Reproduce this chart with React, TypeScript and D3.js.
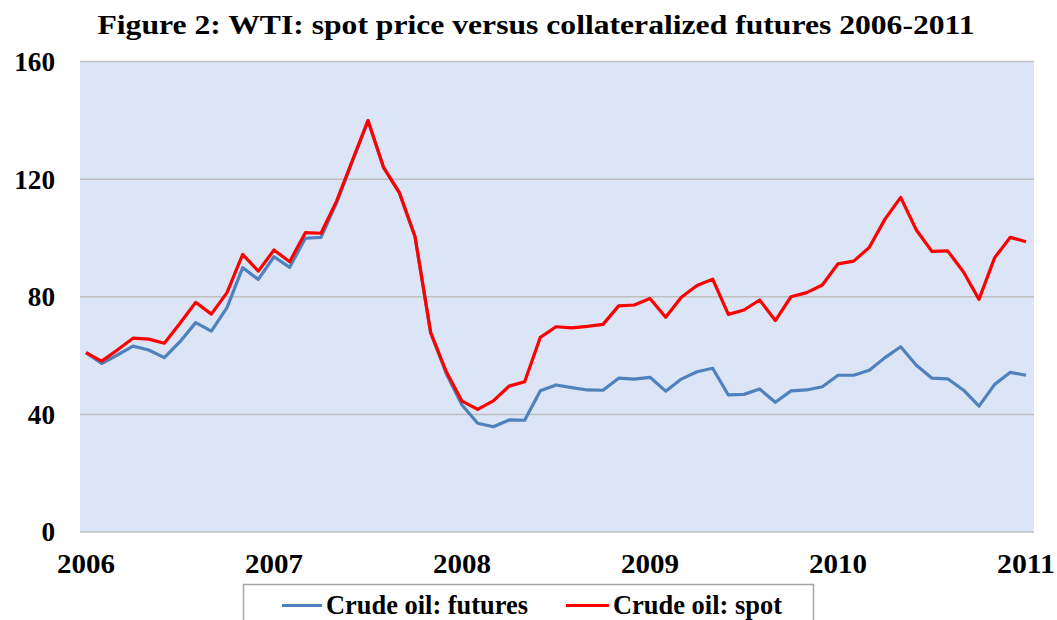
import React from "react";
import * as d3 from "d3";

const futures: number[] = [
  61.0, 57.3, 60.2, 63.2, 61.9, 59.3, 64.7, 71.2, 68.3, 76.3, 89.9, 85.9,
  93.6, 90.0, 99.9, 100.2, 112.0, 126.0, 139.9, 123.9, 115.4, 100.5, 67.8, 53.8,
  43.2, 37.0, 35.8, 38.1, 38.0, 48.0, 50.0, 49.1, 48.3, 48.2, 52.3, 52.0,
  52.6, 47.9, 52.0, 54.5, 55.7, 46.6, 46.8, 48.6, 44.1, 48.0, 48.3, 49.4,
  53.3, 53.3, 55.0, 59.3, 63.0, 56.7, 52.3, 52.1, 48.3, 42.8, 50.2, 54.3,
  53.3,
];

const spot: number[] = [
  61.0, 58.1, 61.9, 65.9, 65.6, 64.2, 71.0, 78.1, 74.1, 81.4, 94.4, 88.7,
  95.9, 91.9, 101.8, 101.6, 112.6, 126.3, 139.9, 123.9, 115.4, 100.5, 67.8, 54.5,
  44.5, 41.7, 44.6, 49.6, 51.1, 66.2, 69.8, 69.4, 69.9, 70.6, 76.9, 77.2,
  79.4, 73.0, 79.8, 83.8, 86.0, 74.0, 75.5, 78.9, 71.9, 80.0, 81.4, 84.0,
  91.2, 92.1, 96.8, 106.4, 113.8, 102.7, 95.4, 95.6, 88.5, 79.1, 93.3, 100.2,
  98.7,
];

const yTicks: number[] = [0, 40, 80, 120, 160];
const xTickLabels: string[] = ["2006", "2007", "2008", "2009", "2010", "2011"];
const xTickIndex: number[] = [0, 12, 24, 36, 48, 60];
const seriesNames: string[] = ["Crude oil: futures", "Crude oil: spot"];
const title = "Figure 2: WTI: spot price versus collateralized futures 2006-2011";

const FONT = "'Liberation Serif', 'Times New Roman', serif";

export default function App() {
  const W = 1057;
  const H = 620;
  const plotLeft = 80;
  const plotRight = 1034;
  const plotTop = 61.5;
  const plotBottom = 532;

  const x = d3.scaleLinear().domain([0, 60]).range([86, 1026]);
  const y = d3.scaleLinear().domain([0, 160]).range([plotBottom, plotTop]);

  const line = d3
    .line<number>()
    .x((_, i) => x(i))
    .y((d) => y(d));

  return (
    <svg
      width={W}
      height={H}
      style={{ position: "absolute", left: 0, top: 0, display: "block" }}
      fontFamily={FONT}
    >
      <rect x={0} y={0} width={W} height={H} fill="#ffffff" />
      <text
        x={536}
        y={34}
        textAnchor="middle"
        fontSize={28}
        fontWeight="bold"
        fill="#000"
        textLength={877}
        lengthAdjust="spacingAndGlyphs"
      >
        {title}
      </text>

      <rect
        x={plotLeft}
        y={plotTop}
        width={plotRight - plotLeft}
        height={plotBottom - plotTop}
        fill="#DBE5F5"
      />
      {yTicks.map((t) => (
        <line
          key={"g" + t}
          x1={plotLeft}
          x2={plotRight}
          y1={y(t)}
          y2={y(t)}
          stroke="#BFBFBF"
          strokeWidth={1.5}
        />
      ))}
      {yTicks.map((t) => (
        <text
          key={"yl" + t}
          x={55}
          y={y(t)}
          dy="0.35em"
          textAnchor="end"
          fontSize={27}
          fontWeight="bold"
          fill="#000"
          textLength={String(t).length * 13.6}
          lengthAdjust="spacingAndGlyphs"
        >
          {t}
        </text>
      ))}
      {xTickLabels.map((lab, k) => (
        <text
          key={"xl" + lab}
          x={x(xTickIndex[k])}
          y={573}
          textAnchor="middle"
          fontSize={27}
          fontWeight="bold"
          fill="#000"
          textLength={lab.length * 14.5}
          lengthAdjust="spacingAndGlyphs"
        >
          {lab}
        </text>
      ))}

      <path
        d={line(futures) || ""}
        fill="none"
        stroke="#4F81BD"
        strokeWidth={3.2}
        strokeLinejoin="round"
      />
      <path
        d={line(spot) || ""}
        fill="none"
        stroke="#FF0000"
        strokeWidth={3.2}
        strokeLinejoin="round"
      />

      <rect
        x={243.5}
        y={584.5}
        width={570}
        height={60}
        fill="#ffffff"
        stroke="#A6A6A6"
        strokeWidth={1.5}
      />
      <line x1={282} x2={322} y1={605.5} y2={605.5} stroke="#4F81BD" strokeWidth={3.2} />
      <text
        x={326}
        y={614}
        fontSize={28}
        fontWeight="bold"
        fill="#000"
        textLength={202}
        lengthAdjust="spacingAndGlyphs"
      >
        {seriesNames[0]}
      </text>
      <line x1={566} x2={609} y1={605.5} y2={605.5} stroke="#FF0000" strokeWidth={3.2} />
      <text
        x={613}
        y={614}
        fontSize={28}
        fontWeight="bold"
        fill="#000"
        textLength={169}
        lengthAdjust="spacingAndGlyphs"
      >
        {seriesNames[1]}
      </text>
    </svg>
  );
}
